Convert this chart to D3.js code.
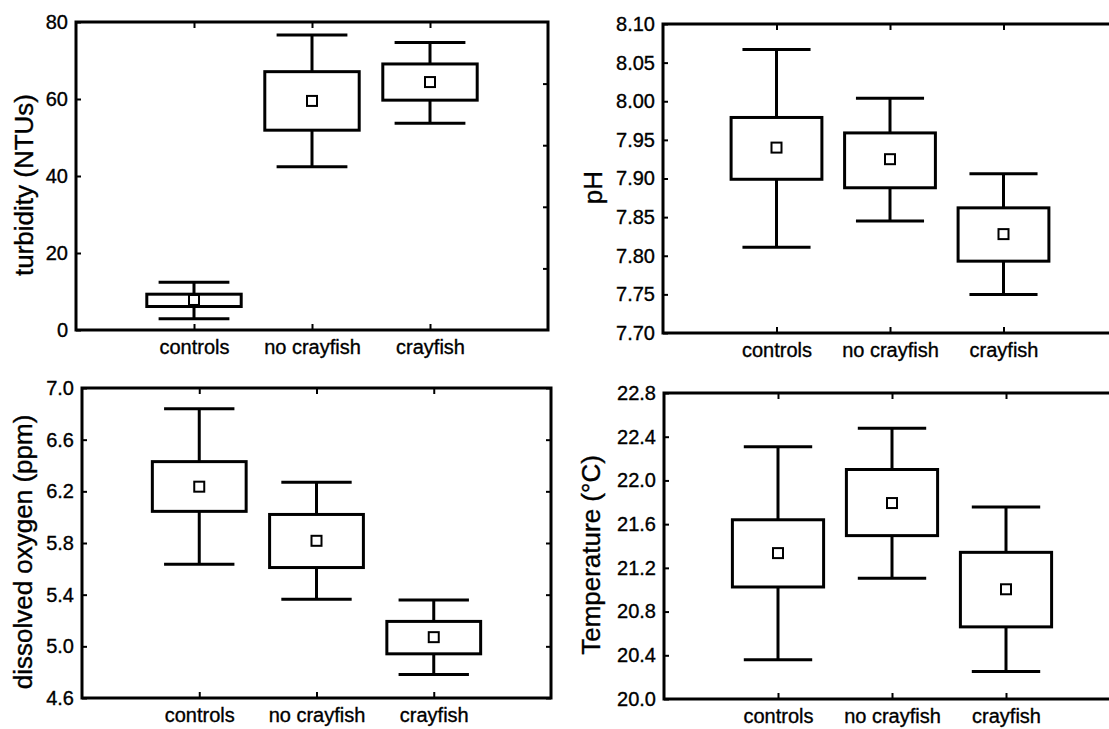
<!DOCTYPE html>
<html>
<head>
<meta charset="utf-8">
<script src="https://cdnjs.cloudflare.com/ajax/libs/d3/7.8.5/d3.min.js"></script>
<style>
  body { margin: 0; background: #fff; }
  svg { display: block; font-family: "Liberation Sans", Arial, sans-serif; }
  text { stroke: #000; stroke-width: 0.35px; fill: #000; }
</style>
</head>
<body>
<svg id="chart" width="1109" height="729"></svg>
<script>
// Categories shared by all four panels
const categories = ["controls", "no crayfish", "crayfish"];

// Turbidity (NTUs)
const turbMean = [7.8, 59.5, 64.4];
const turbBoxLo = [6.1, 51.9, 59.7];
const turbBoxHi = [9.3, 67.1, 69.1];
const turbWhiskLo = [2.9, 42.4, 53.7];
const turbWhiskHi = [12.4, 76.6, 74.7];
const turbTicks = [0, 20, 40, 60, 80];
const turbRightTicks = [16, 32, 48, 64];

// pH
const phMean = [7.940, 7.925, 7.828];
const phBoxLo = [7.899, 7.888, 7.793];
const phBoxHi = [7.979, 7.959, 7.862];
const phWhiskLo = [7.811, 7.845, 7.750];
const phWhiskHi = [8.067, 8.004, 7.906];
const phTicks = [7.70, 7.75, 7.80, 7.85, 7.90, 7.95, 8.00, 8.05, 8.10];

// Dissolved oxygen (ppm)
const doMean = [6.236, 5.817, 5.071];
const doBoxLo = [6.045, 5.61, 4.942];
const doBoxHi = [6.43, 6.021, 5.193];
const doWhiskLo = [5.636, 5.364, 4.782];
const doWhiskHi = [6.84, 6.27, 5.359];
const doTicks = [4.6, 5.0, 5.4, 5.8, 6.2, 6.6, 7.0];

// Temperature (°C)
const tempMean = [21.335, 21.793, 21.004];
const tempBoxLo = [21.025, 21.495, 20.66];
const tempBoxHi = [21.64, 22.1, 21.342];
const tempWhiskLo = [20.359, 21.105, 20.252];
const tempWhiskHi = [22.309, 22.478, 21.756];
const tempTicks = [20.0, 20.4, 20.8, 21.2, 21.6, 22.0, 22.4, 22.8];

const svg = d3.select("#chart");

// Panel setup: frame box, axis, data
const panels = [
    { box: [76, 22, 548, 330], title: "turbidity (NTUs)", titleX: 24, fmt: "d",
      ticks: turbTicks, right: turbRightTicks,
      mean: turbMean, bLo: turbBoxLo, bHi: turbBoxHi, wLo: turbWhiskLo, wHi: turbWhiskHi },
    { box: [663, 24, 1117, 333], title: "pH", titleX: 593, fmt: ".2f",
      ticks: phTicks, right: phTicks,
      mean: phMean, bLo: phBoxLo, bHi: phBoxHi, wLo: phWhiskLo, wHi: phWhiskHi },
    { box: [82, 388, 551, 698], title: "dissolved oxygen (ppm)", titleX: 23, fmt: ".1f",
      ticks: doTicks, right: doTicks,
      mean: doMean, bLo: doBoxLo, bHi: doBoxHi, wLo: doWhiskLo, wHi: doWhiskHi },
    { box: [664, 393, 1120, 699], title: "Temperature (°C)", titleX: 591, fmt: ".1f",
      ticks: tempTicks, right: tempTicks,
      mean: tempMean, bLo: tempBoxLo, bHi: tempBoxHi, wLo: tempWhiskLo, wHi: tempWhiskHi }
];

panels.forEach(p => {
    var [x0, y0, x1, y1] = p.box;
    var x = d3.scaleLinear().domain([0, 4]).range([x0, x1]);
    var y = d3.scaleLinear().domain(d3.extent(p.ticks)).range([y1, y0]);
    var g = svg.append("g");

    // Left axis (inward ticks)
    g.append("g")
        .attr("transform", "translate(" + x0 + ",0)")
        .call(d3.axisLeft(y).tickValues(p.ticks).tickFormat(d3.format(p.fmt)).tickSize(-5).tickPadding(8))
        .call(a => a.select(".domain").remove())
        .call(a => a.selectAll("line").attr("stroke-width", 2))
        .call(a => a.selectAll("text").attr("font-size", 20).attr("fill", "#000"));

    // Right axis (inward ticks, no labels)
    g.append("g")
        .attr("transform", "translate(" + x1 + ",0)")
        .call(d3.axisRight(y).tickValues(p.right).tickFormat("").tickSize(-5))
        .call(a => a.select(".domain").remove())
        .call(a => a.selectAll("line").attr("stroke-width", 2));

    // Bottom axis with category labels
    g.append("g")
        .attr("transform", "translate(0," + y1 + ")")
        .call(d3.axisBottom(x).tickValues([1, 2, 3]).tickFormat(i => categories[i - 1]).tickSize(-6).tickPadding(10))
        .call(a => a.select(".domain").remove())
        .call(a => a.selectAll("line").attr("stroke-width", 2))
        .call(a => a.selectAll("text").attr("font-size", 20).attr("fill", "#000"));

    // Top axis ticks
    g.append("g")
        .attr("transform", "translate(0," + y0 + ")")
        .call(d3.axisTop(x).tickValues([1, 2, 3]).tickFormat("").tickSize(-6))
        .call(a => a.select(".domain").remove())
        .call(a => a.selectAll("line").attr("stroke-width", 2));

    // Frame
    g.append("rect")
        .attr("x", x0).attr("y", y0)
        .attr("width", x1 - x0).attr("height", y1 - y0)
        .attr("fill", "none").attr("stroke", "#000").attr("stroke-width", 3);

    // Y title
    g.append("text")
        .attr("transform", "translate(" + p.titleX + "," + ((y0 + y1) / 2 + 9) + ") rotate(-90)")
        .attr("text-anchor", "middle")
        .attr("dy", "0.35em")
        .attr("font-size", 26)
        .text(p.title);

    // Boxes and whiskers
    categories.forEach((c, i) => {
        var cx = x(i + 1);
        var bw = x(0.4) - x(0);
        var cw = x(0.3) - x(0);
        var box = g.append("g").attr("stroke", "#000").attr("stroke-width", 3).attr("fill", "none");
        box.append("line").attr("x1", cx).attr("x2", cx).attr("y1", y(p.wHi[i])).attr("y2", y(p.bHi[i]));
        box.append("line").attr("x1", cx).attr("x2", cx).attr("y1", y(p.bLo[i])).attr("y2", y(p.wLo[i]));
        box.append("line").attr("x1", cx - cw).attr("x2", cx + cw).attr("y1", y(p.wHi[i])).attr("y2", y(p.wHi[i]));
        box.append("line").attr("x1", cx - cw).attr("x2", cx + cw).attr("y1", y(p.wLo[i])).attr("y2", y(p.wLo[i]));
        box.append("rect")
            .attr("x", cx - bw).attr("y", y(p.bHi[i]))
            .attr("width", 2 * bw).attr("height", y(p.bLo[i]) - y(p.bHi[i]));
        // Mean marker
        box.append("rect")
            .attr("x", cx - 5).attr("y", y(p.mean[i]) - 5)
            .attr("width", 10).attr("height", 10)
            .attr("fill", "#fff").attr("stroke-width", 2);
    });
});
</script>
</body>
</html>
